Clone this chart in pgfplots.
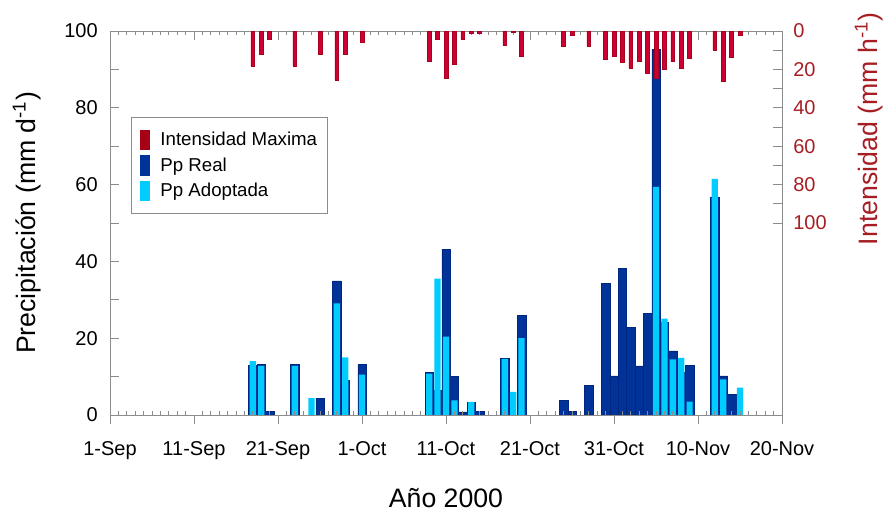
\documentclass[border=0pt]{standalone}
\usepackage{pgfplots}
\pgfplotsset{compat=1.18}
\usepackage{pgfplotstable}
\usepackage{fontspec}
\setmainfont{Liberation Sans}

\definecolor{ppreal}{HTML}{003399}
\definecolor{pprealedge}{HTML}{00267D}
\definecolor{ppadopt}{HTML}{00CCFF}
\definecolor{intens}{HTML}{CC0033}
\definecolor{intensedge}{HTML}{A8001E}
\definecolor{legred}{HTML}{A50016}
\definecolor{intlabel}{HTML}{A61E24}
\definecolor{axisgray}{HTML}{8C8C8C}

% daily precipitation, measured (mm/d); day 0 = 1 September 2000
\pgfplotstableread{
day real
17 13.0
18 13.2
19 1.0
22 13.1
25 4.4
27 34.9
28 9.1
30 13.1
38 11.0
39 6.4
40 43.2
41 10.1
42 0.8
43 3.2
44 0.9
47 14.8
49 26.0
54 3.9
55 1.0
57 7.7
59 34.3
60 10.2
61 38.2
62 22.9
63 12.8
64 26.5
65 95.2
66 24.1
67 16.7
68 11.0
69 13.0
72 56.8
73 10.2
74 5.4
}\tabreal

% daily precipitation, adopted values (mm/d)
\pgfplotstableread{
day adopt
17 14.0
18 12.8
22 12.8
24 4.4
27 29.1
28 15.0
30 10.5
38 10.8
39 35.5
40 20.4
41 3.8
43 3.4
47 14.6
48 6.0
49 20.0
65 59.4
66 25.1
67 14.5
68 14.9
69 3.5
72 61.5
73 9.3
75 7.1
}\tabadopt

% maximum rainfall intensity (mm/h)
\pgfplotstableread{
day imax
17 18.3
18 12.2
19 4.4
22 18.3
25 12.2
27 25.4
28 12.2
30 6.1
38 15.7
39 4.4
40 24.4
41 17.1
42 4.4
43 1.2
44 1.4
47 7.3
48 0.9
49 12.9
54 8.0
55 2.1
57 7.8
59 14.6
60 12.9
61 16.5
62 19.5
63 15.8
64 22.1
65 24.4
66 20.0
67 15.8
68 19.5
69 14.3
72 9.8
73 26.1
74 13.6
75 2.4
}\tabint

\pgfplotsset{
  base/.style={
    scale only axis, width=504pt, height=288pt,
    xmin=0, xmax=80,
    axis line style={axisgray, line width=0.6pt},
    every tick/.style={axisgray, line width=0.6pt},
    tick label style={font=\fontsize{15}{18}\selectfont},
    /pgf/number format/assume math mode=true,
  },
}

\begin{document}
\begin{tikzpicture}

% precipitation (left axis)
\begin{axis}[base,
  ymin=0, ymax=100,
  ytick={0,10,...,100}, yticklabels={0,,20,,40,,60,,80,,100},
  ytick pos=left, ytick align=inside,
  xtick={0,10,...,80},
  xticklabels={1-Sep,11-Sep,21-Sep,1-Oct,11-Oct,21-Oct,31-Oct,10-Nov,20-Nov},
  xtick pos=left, xtick align=outside,
  major tick length=6.75pt,
  yticklabel style={anchor=east, inner sep=0pt, xshift=-9pt},
  xticklabel style={anchor=base, inner sep=0pt, yshift=-23.6pt},
  xlabel={Año 2000},
  xlabel style={at={(axis description cs:0.5,-0.240)}, anchor=base,
    inner sep=0pt, font=\fontsize{20}{24}\selectfont},
  ylabel={Precipitación (mm d\textsuperscript{-1})},
  ylabel style={at={(axis description cs:-0.1235,0.5)}, anchor=center,
    font=\fontsize{20}{24}\selectfont},
]
\coordinate (bl) at (rel axis cs:0,0);
\coordinate (tr) at (rel axis cs:1,1);
\addplot[ybar, bar width=1, bar shift=0pt, fill=ppreal, draw=pprealedge,
  line width=0.4pt] table[x=day, y=real] {\tabreal};
\addplot[ybar, bar width=0.74, bar shift=0pt, fill=ppadopt, draw=none]
  table[x=day, y=adopt] {\tabadopt};
\end{axis}

% daily tick marks along the bottom edge
\begin{axis}[base,
  ymin=0, ymax=1, ytick=\empty,
  axis line style={draw=none},
  xtick={1,2,3,4,5,6,7,8,9,11,12,13,14,15,16,17,18,19,21,22,23,24,25,26,27,28,29,
    31,32,33,34,35,36,37,38,39,41,42,43,44,45,46,47,48,49,51,52,53,54,55,56,57,58,59,
    61,62,63,64,65,66,67,68,69,71,72,73,74,75,76,77,78,79},
  xticklabels={}, xtick pos=left, xtick align=inside,
  major tick length=3pt,
]
\end{axis}

% intensity (right axis, hanging from the top)
\begin{axis}[base,
  ymin=0, ymax=200, y dir=reverse,
  ytick={0,10,...,100}, yticklabels={0,,20,,40,,60,,80,,100},
  ytick pos=right, ytick align=inside,
  xtick={0,10,...,80}, xticklabels={}, xtick pos=right, xtick align=inside,
  minor x tick num=9,
  major tick length=6.75pt, minor tick length=3pt,
  yticklabel style={anchor=west, inner sep=0pt, xshift=8.25pt, text=intlabel},
  ylabel={Intensidad (mm h\textsuperscript{-1})},
  ylabel style={at={(axis description cs:1.1295,0.745)}, anchor=center,
    text=intlabel, font=\fontsize{20}{24}\selectfont},
  legend image code/.code={\fill[#1] (0pt,-7.75pt) rectangle (7.5pt,7.75pt);},
  legend cell align=left,
  legend style={at={(axis description cs:0.0308,0.775)}, anchor=north west,
    draw=axisgray, line width=0.6pt, fill=white,
    inner xsep=7pt, inner ysep=9pt, row sep=3.6pt,
    font=\fontsize{14}{16.8}\selectfont,
    nodes={inner sep=1pt},
    /tikz/every odd column/.append style={column sep=6.5pt}},
]
\addplot[ybar, bar width=0.45, bar shift=0pt, fill=intens, draw=intensedge,
  line width=0.4pt, forget plot] table[x=day, y=imax] {\tabint};
\addlegendimage{fill=legred, draw=none}
\addlegendentry{Intensidad Maxima}
\addlegendimage{fill=ppreal, draw=none}
\addlegendentry{Pp Real}
\addlegendimage{fill=ppadopt, draw=none}
\addlegendentry{Pp Adoptada}
\end{axis}

\pgfresetboundingbox
\useasboundingbox ([shift={(-82.5pt,-73.5pt)}]bl) rectangle ([shift={(76.5pt,23.25pt)}]tr);
\end{tikzpicture}
\end{document}
